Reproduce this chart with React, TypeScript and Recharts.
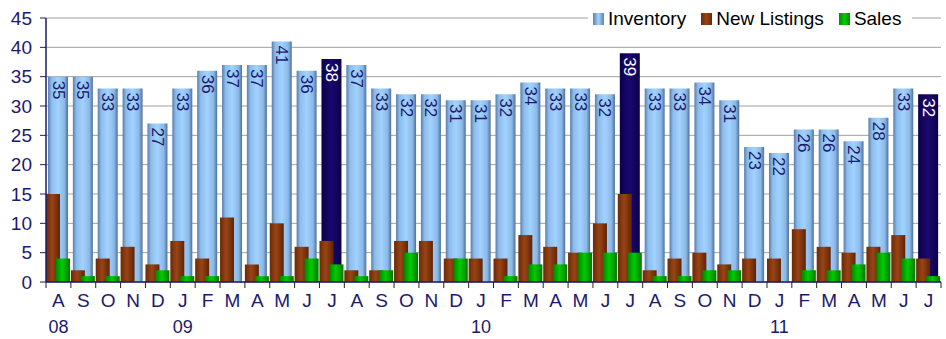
import React from 'react';
import {
  BarChart,
  Bar,
  XAxis,
  YAxis,
  CartesianGrid,
  Cell,
  LabelList,
} from 'recharts';

const months = [
  'Aug', 'Sep', 'Oct', 'Nov', 'Dec', 'Jan', 'Feb', 'Mar', 'Apr', 'May', 'Jun', 'Jul',
  'Aug', 'Sep', 'Oct', 'Nov', 'Dec', 'Jan', 'Feb', 'Mar', 'Apr', 'May', 'Jun', 'Jul',
  'Aug', 'Sep', 'Oct', 'Nov', 'Dec', 'Jan', 'Feb', 'Mar', 'Apr', 'May', 'Jun', 'Jul',
];
const years = [
  '08', '', '', '', '', '09', '', '', '', '', '', '',
  '', '', '', '', '', '10', '', '', '', '', '', '',
  '', '', '', '', '', '11', '', '', '', '', '', '',
];
const inventory = [
  35, 35, 33, 33, 27, 33, 36, 37, 37, 41, 36, 38,
  37, 33, 32, 32, 31, 31, 32, 34, 33, 33, 32, 39,
  33, 33, 34, 31, 23, 22, 26, 26, 24, 28, 33, 32,
];
const newListings = [
  15, 2, 4, 6, 3, 7, 4, 11, 3, 10, 6, 7,
  2, 2, 7, 7, 4, 4, 4, 8, 6, 5, 10, 15,
  2, 4, 5, 3, 4, 4, 9, 6, 5, 6, 8, 4,
];
const sales = [
  4, 1, 1, 0, 2, 1, 1, 0, 1, 1, 4, 3,
  1, 2, 5, 0, 4, 0, 1, 3, 3, 5, 5, 5,
  1, 1, 2, 2, 0, 0, 2, 2, 3, 5, 4, 1,
];
const yTicks = [0, 5, 10, 15, 20, 25, 30, 35, 40, 45];

const data = months.map((month, i) => ({
  key: `${month}-${i}`,
  month,
  year: years[i],
  inventory: inventory[i],
  newListings: newListings[i],
  sales: sales[i],
}));

const WIDTH = 946;
const HEIGHT = 339;
const LEFT = 46;
const RIGHT = 5;
const BAND = (WIDTH - LEFT - RIGHT) / data.length;
const NAVY = '#1c1a6e';
const FONT = '"Liberation Sans", Arial, sans-serif';

const MonthTick = (props: any) => {
  const { x, y, payload, index } = props;
  const row = data[index] || data[payload.index] || { month: '', year: '' };
  const isLast = index === data.length - 1;
  return (
    <g>
      <line x1={x - BAND / 2} x2={x - BAND / 2} y1={y} y2={y + 6} stroke="#222" />
      {isLast && <line x1={x + BAND / 2} x2={x + BAND / 2} y1={y} y2={y + 6} stroke="#222" />}
      <text x={x} y={y + 25} textAnchor="middle" fill={NAVY} fontSize={19} fontFamily={FONT}>
        {row.month.charAt(0)}
      </text>
      {row.year && (
        <text x={x} y={y + 51} textAnchor="middle" fill={NAVY} fontSize={18} fontFamily={FONT}>
          {row.year}
        </text>
      )}
    </g>
  );
};

const InventoryLabel = (props: any) => {
  const { x, y, width, value, index } = props;
  const cx = x + width / 2;
  const top = y + 4;
  const dark = months[index] === 'Jul';
  return (
    <text
      x={cx}
      y={top}
      transform={`rotate(90, ${cx}, ${top})`}
      textAnchor="start"
      dominantBaseline="central"
      fill={dark ? '#ffffff' : NAVY}
      fontSize={17}
      fontFamily={FONT}
    >
      {value}
    </text>
  );
};

const legendItems = [
  { name: 'Inventory', bg: 'linear-gradient(90deg, #5d82ad, #a3d2ff 50%, #5d82ad)' },
  { name: 'New Listings', bg: 'linear-gradient(90deg, #6a2a0a, #9a4414 50%, #6a2a0a)' },
  { name: 'Sales', bg: 'linear-gradient(90deg, #008a00, #00cc00 50%, #008a00)' },
];

export default function App() {
  return (
    <div style={{ position: 'absolute', left: 0, top: 0, width: WIDTH, height: HEIGHT, background: '#fff' }}>
      <BarChart
        width={WIDTH}
        height={HEIGHT}
        data={data}
        margin={{ top: 18, right: RIGHT, left: 0, bottom: 0 }}
        barGap={-4}
      >
        <defs>
          <linearGradient id="invGrad" x1="0" y1="0" x2="1" y2="0">
            <stop offset="0%" stopColor="#5a7ea8" />
            <stop offset="18%" stopColor="#8dbdee" />
            <stop offset="50%" stopColor="#a2d2ff" />
            <stop offset="82%" stopColor="#8bb9e8" />
            <stop offset="100%" stopColor="#4f7096" />
          </linearGradient>
          <linearGradient id="navyGrad" x1="0" y1="0" x2="1" y2="0">
            <stop offset="0%" stopColor="#0c0048" />
            <stop offset="50%" stopColor="#1a0870" />
            <stop offset="100%" stopColor="#0c0048" />
          </linearGradient>
          <linearGradient id="brownGrad" x1="0" y1="0" x2="1" y2="0">
            <stop offset="0%" stopColor="#6a2a0a" />
            <stop offset="45%" stopColor="#9a4414" />
            <stop offset="100%" stopColor="#5e2408" />
          </linearGradient>
          <linearGradient id="greenGrad" x1="0" y1="0" x2="1" y2="0">
            <stop offset="0%" stopColor="#008600" />
            <stop offset="45%" stopColor="#00cc00" />
            <stop offset="100%" stopColor="#007800" />
          </linearGradient>
        </defs>
        <CartesianGrid horizontal vertical={false} stroke="#a0a0a0" />
        <XAxis
          dataKey="key"
          interval={0}
          height={57}
          tickLine={false}
          tickSize={0}
          tickMargin={0}
          axisLine={{ stroke: NAVY, strokeWidth: 1.5 }}
          tick={<MonthTick />}
        />
        <XAxis xAxisId="inv" dataKey="key" hide />
        <YAxis
          width={LEFT}
          domain={[0, 45]}
          ticks={yTicks}
          interval={0}
          tickSize={6}
          tickMargin={8}
          axisLine={{ stroke: NAVY, strokeWidth: 1.5 }}
          tickLine={{ stroke: NAVY }}
          tick={{ fill: NAVY, fontSize: 19, fontFamily: FONT }}
        />
        <YAxis
          yAxisId="right"
          orientation="right"
          width={0}
          tick={false}
          tickLine={false}
          axisLine={{ stroke: '#a0a0a0' }}
        />
        <Bar dataKey="inventory" xAxisId="inv" barSize={20} isAnimationActive={false}>
          {data.map((d, i) => (
            <Cell key={`inv-${i}`} fill={d.month === 'Jul' ? 'url(#navyGrad)' : 'url(#invGrad)'} />
          ))}
          <LabelList dataKey="inventory" content={<InventoryLabel />} />
        </Bar>
        <Bar dataKey="newListings" barSize={14} fill="url(#brownGrad)" isAnimationActive={false} />
        <Bar dataKey="sales" barSize={14} fill="url(#greenGrad)" isAnimationActive={false} />
      </BarChart>
      <div
        style={{
          position: 'absolute',
          left: 588,
          top: 8,
          width: 324,
          height: 22,
          background: '#fff',
          display: 'flex',
          alignItems: 'center',
          fontFamily: FONT,
          fontSize: 19,
          color: '#000',
        }}
      >
        {legendItems.map((item, i) => (
          <div key={item.name} style={{ display: 'flex', alignItems: 'center', marginLeft: i === 0 ? 5 : 15 }}>
            <span style={{ display: 'inline-block', width: 11, height: 12, background: item.bg, marginRight: 4 }} />
            <span>{item.name}</span>
          </div>
        ))}
      </div>
    </div>
  );
}
